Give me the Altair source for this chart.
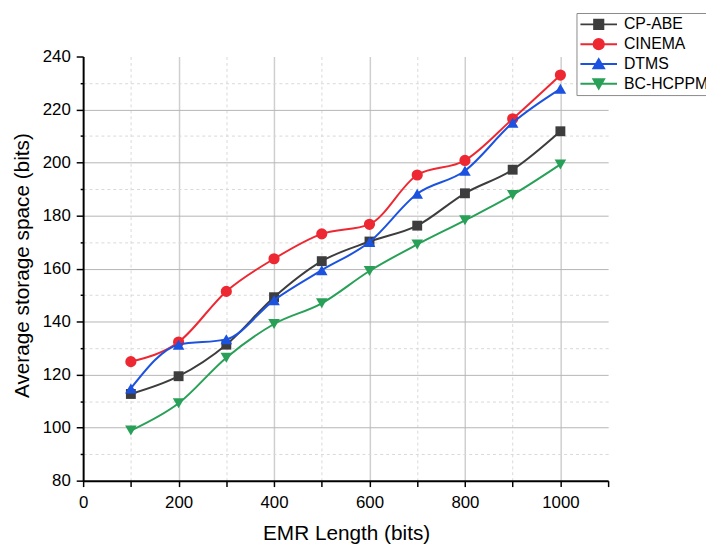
import altair as alt
import pandas as pd

# ---- data ----
lengths = [100, 200, 300, 400, 500, 600, 700, 800, 900, 1000]
cp_abe = [112.7, 119.4, 131.3, 149.2, 162.8, 170.2, 176.2, 188.4, 197.3, 211.8]
cinema = [124.9, 132.3, 151.4, 163.7, 173.1, 176.7, 195.3, 200.8, 216.5, 233.0]
dtms = [114.8, 131.3, 133.3, 148.1, 159.4, 170.0, 188.2, 196.9, 215.0, 227.8]
bc_hcppm = [98.9, 109.2, 126.4, 139.1, 146.9, 159.1, 169.1, 178.2, 187.8, 199.3]

series_names = ["CP-ABE", "CINEMA", "DTMS", "BC-HCPPM"]
series_values = [cp_abe, cinema, dtms, bc_hcppm]
colors = ["#3d3d3d", "#ee2832", "#1b52df", "#28a057"]
marker_shapes = ["square", "circle", "triangle-up", "triangle-down"]
marker_sizes = [100, 128, 137, 137]
legend_shapes = [
    "M-1,0H1M-0.25,-0.25H0.25V0.25H-0.25Z",
    "M-1,0H1M0.28,0A0.28,0.28,0,1,1,-0.28,0A0.28,0.28,0,1,1,0.28,0Z",
    "M-1,0H1M0,-0.26L0.29,0.24H-0.29Z",
    "M-1,0H1M0,0.26L0.29,-0.24H-0.29Z",
]

x_ticks = list(range(0, 1101, 100))
y_ticks = list(range(80, 241, 10))

rows = []
for name, vals in zip(series_names, series_values):
    for x, v in zip(lengths, vals):
        rows.append({"length": x, "space": v, "series": name})
df = pd.DataFrame(rows)

FONT = "Liberation Sans"

x_axis = alt.Axis(
    values=x_ticks, format="d",
    labelExpr="datum.value % 200 === 0 && datum.value <= 1000 ? datum.label : ''",
    title="EMR Length (bits)",
    titleFont=FONT, titleFontSize=21, titleFontWeight="normal", titleColor="black",
    titleX=266, titleY=60, titleBaseline="alphabetic", titleAlign="center",
    labelFont=FONT, labelFontSize=17, labelColor="black", labelPadding=8,
    labelFlush=False, labelOverlap=False,
    tickSize=6, tickColor="black", tickWidth=1.5,
    domainColor="black", domainWidth=2,
    grid=True,
    gridColor={"condition": {"test": "datum.value % 200 === 0", "value": "#cfcfcf"}, "value": "#d9d9d9"},
    gridDash={"condition": {"test": "datum.value % 200 === 0", "value": []}, "value": [3, 3]},
    gridWidth={"condition": {"test": "datum.value % 200 === 0", "value": 1.5}, "value": 1},
    gridOpacity={"condition": {"test": "datum.value === 0 || datum.value === 1100", "value": 0}, "value": 1},
)

y_axis = alt.Axis(
    values=y_ticks, format="d",
    labelExpr="datum.value % 20 === 0 ? datum.label : ''",
    title="Average storage space (bits)",
    titleFont=FONT, titleFontSize=21, titleFontWeight="normal", titleColor="black",
    titleX=-55, titleY=211, titleBaseline="alphabetic", titleAlign="center",
    labelFont=FONT, labelFontSize=17, labelColor="black", labelPadding=6,
    labelOverlap=False,
    tickSize={"condition": {"test": "datum.value % 20 === 0", "value": 7}, "value": 3},
    tickColor="black", tickWidth=1.5,
    domainColor="black", domainWidth=2,
    grid=True,
    gridColor={"condition": {"test": "datum.value % 20 === 0", "value": "#b5b5b5"}, "value": "#d9d9d9"},
    gridDash={"condition": {"test": "datum.value % 20 === 0", "value": []}, "value": [3, 3]},
    gridWidth=1,
    gridOpacity={"condition": {"test": "datum.value === 80 || datum.value === 240", "value": 0}, "value": 1},
)

x_enc = alt.X("length:Q", scale=alt.Scale(domain=[0, 1100], nice=False, zero=False), axis=x_axis)
y_enc = alt.Y("space:Q", scale=alt.Scale(domain=[80, 240], nice=False, zero=False), axis=y_axis)
color_scale = alt.Scale(domain=series_names, range=colors)

legend = alt.Legend(
    title=None, orient="none", legendX=499, legendY=-44,
    symbolSize=1369, symbolStrokeWidth=2, symbolOpacity=1,
    clipHeight=17, rowPadding=3, padding=3, labelOffset=6,
    labelFont=FONT, labelFontSize=16, labelColor="black", labelLimit=300,
    strokeColor="#8a8a8a", fillColor="white",
)

base = alt.Chart(df)

layers = []
# first the legend carrier (invisible in the plot, visible in the legend)
layers.append(
    base.mark_point(filled=True, opacity=0, strokeWidth=2).encode(
        x=x_enc, y=y_enc,
        color=alt.Color("series:N", scale=color_scale, legend=legend),
        stroke=alt.Stroke("series:N", scale=color_scale, legend=legend),
        shape=alt.Shape("series:N", scale=alt.Scale(domain=series_names, range=legend_shapes), legend=legend),
    )
)
for name, col, shp, sz in zip(series_names, colors, marker_shapes, marker_sizes):
    sub = base.transform_filter(alt.datum.series == name)
    layers.append(
        sub.mark_line(interpolate="monotone", strokeWidth=2, color=col).encode(x=x_enc, y=y_enc)
    )
    layers.append(
        sub.mark_point(filled=True, opacity=1, shape=shp, size=sz, color=col).encode(x=x_enc, y=y_enc)
    )

chart = alt.layer(*layers).properties(
    width=531, height=429,
    autosize=alt.AutoSizeParams(type="none"),
    padding={"left": 76, "top": 46, "right": 99, "bottom": 61},
    background="white",
).configure_view(stroke=None)

chart.save("out.html", embed_options={"renderer": "svg", "actions": False})
